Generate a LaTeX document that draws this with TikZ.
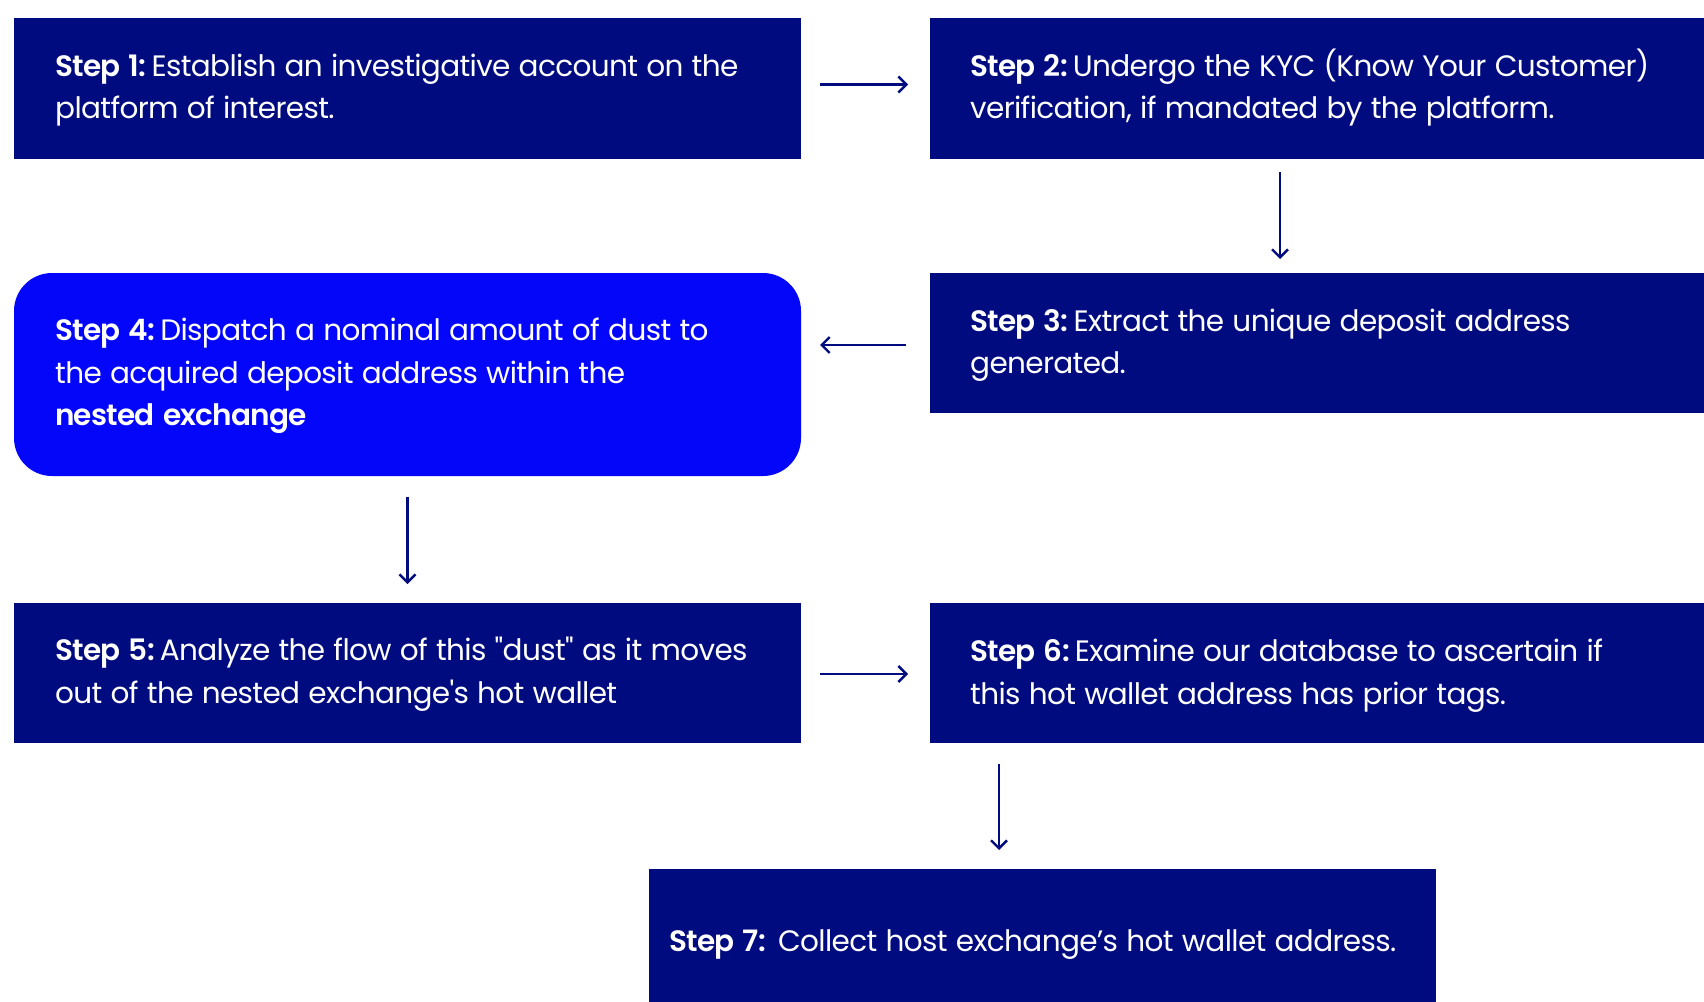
\documentclass[tikz,border=0pt]{standalone}
\usepackage{fontspec}
\setmainfont{Poppins}[Ligatures=TeXOff, LetterSpace=-2.2, BoldFont={Poppins SemiBold}, BoldFeatures={LetterSpace=-2.5}]
\usetikzlibrary{arrows.meta}
\definecolor{navy}{RGB}{1,11,128}
\definecolor{bright}{RGB}{4,6,250}
\newcommand{\stp}[1]{{\bfseries #1}\hspace{5pt}\ignorespaces}
\newcommand{\txtfont}{\fontsize{29.5}{42.5}\selectfont\spaceskip 8.3pt plus 2pt minus 1pt\relax}
\begin{document}
\begin{tikzpicture}[x=1pt,y=-1pt,
  box/.style={fill=navy, anchor=north west, inner sep=0pt, outer sep=0pt, minimum width=787pt, minimum height=140pt},
  txt/.style={text=white, anchor=west, align=left, inner sep=0pt, font=\txtfont},
  conn/.style={draw=navy, line width=2.4pt, -{Straight Barb[length=8pt,width=16pt,line width=2.4pt]}}]
\clip (0,0) rectangle (1704,1001);
\fill[white] (0,0) rectangle (1704,1001);
\node[box, minimum height=141pt] (b1) at (14,18) {};
\node[box, minimum width=774pt, minimum height=141pt] (b2) at (930,18) {};
\node[box, minimum width=774pt] (b3) at (930,273) {};
\node[box, fill=bright, rounded corners=38pt, minimum height=203pt] (b4) at (14,273) {};
\node[box] (b5) at (14,603) {};
\node[box, minimum width=774pt] (b6) at (930,603) {};
\node[box, minimum height=144pt] (b7) at (649,869) {};
\node[txt, yshift=-1.4pt] (t1) at ([xshift=41pt]b1.west) {\stp{Step 1:} Establish an investigative account on the\\platform of interest.};
\node[txt, yshift=0.8pt] (t2) at ([xshift=40pt]b2.west) {\stp{Step 2:} Undergo the KYC (Know Your Customer)\\verification, if mandated by the platform.};
\node[txt, yshift=-2.5pt] (t3) at ([xshift=40pt]b3.west) {\stp{Step 3:} Extract the unique deposit address\\generated.};
\node[txt, yshift=-1.4pt] (t4) at ([xshift=41pt]b4.west) {\stp{Step 4:} Dispatch a nominal amount of dust to\\the acquired deposit address within the\\\textbf{nested exchange}};
\node[txt, yshift=-1.4pt] (t5) at ([xshift=41pt]b5.west) {\stp{Step 5:} Analyze the flow of this "dust" as it moves\\out of the nested exchange's hot wallet};
\node[txt, yshift=-2.5pt] (t6) at ([xshift=40pt]b6.west) {\stp{Step 6:} Examine our database to ascertain if\\this hot wallet address has prior tags.};
\node[txt, yshift=-3.5pt] (t7) at ([xshift=20pt]b7.west) {\stp{Step 7:}\hspace{7pt}Collect host exchange’s hot wallet address.};
\draw[conn, shorten <=19pt, shorten >=22pt] ([yshift=4]b1.east) -- ([yshift=4]b1.east -| b2.west);
\draw[conn, shorten <=13pt, shorten >=14pt] ([xshift=-37]b2.south) -- ([xshift=-37]b3.north);
\draw[conn, shorten <=24pt, shorten >=19pt] ([yshift=-2]b3.west) -- ([yshift=-2]b3.west -| b4.east);
\draw[conn, shorten <=21pt, shorten >=19pt] (b4.south) -- (b5.north);
\draw[conn, shorten <=19pt, shorten >=22pt] ([yshift=-1]b5.east) -- ([yshift=-1]b6.west);
\draw[conn, shorten <=21pt, shorten >=19pt] ([xshift=-318]b6.south) -- ([xshift=-318]b6.south |- b7.north);
\end{tikzpicture}
\end{document}
